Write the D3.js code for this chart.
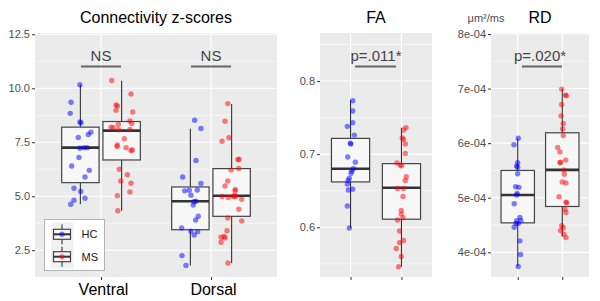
<!DOCTYPE html>
<html>
<head>
<meta charset="utf-8">
<script src="https://cdn.jsdelivr.net/npm/d3@7"></script>
<style>
  body { margin: 0; background: #fff; }
  svg { display: block; font-family: "Liberation Sans", Arial, sans-serif; }
</style>
</head>
<body>
<svg id="chart" width="600" height="301"></svg>
<script>
// Groups and box stats [lower whisker, Q1, median, Q3, upper whisker]
const groups = ['HC', 'MS'];
const regions = ['Ventral', 'Dorsal'];
const groupColors = { HC: 'blue', MS: 'red' };

const boxVentral = { HC: [4.63, 5.63, 7.25, 8.20, 10.16], MS: [4.33, 6.68, 8.04, 8.46, 10.35] };
const boxDorsal = { HC: [1.79, 3.45, 4.77, 5.43, 8.12], MS: [1.91, 4.07, 5.02, 6.28, 9.27] };
const boxFA = { HC: [0.599, 0.662, 0.680, 0.7215, 0.774], MS: [0.546, 0.611, 0.654, 0.687, 0.736] };
const boxRD = { HC: [3.74e-4, 4.54e-4, 5.05e-4, 5.50e-4, 6.09e-4], MS: [4.29e-4, 4.84e-4, 5.51e-4, 6.19e-4, 6.99e-4] };

// Subject values (connectivity z-scores)
const ventralHC = [10.16, 9.35, 8.84, 8.44, 8.40, 7.72, 7.86, 7.97, 7.25, 7.25, 7.22, 6.80, 6.40, 6.20, 5.89, 5.37, 5.22, 4.91, 4.82, 4.63];
const ventralHCJitter = [-0.004, -0.085, -0.092, -0.004, 0.005, -0.019, 0.072, 0.096, 0.033, 0.063, -0.004, -0.013, -0.079, 0.081, 0.042, -0.058, 0.003, 0.042, -0.058, -0.088];
const ventralMS = [10.36, 9.74, 9.23, 9.18, 8.98, 8.90, 8.49, 8.37, 8.32, 8.20, 8.18, 8.08, 8.09, 7.66, 7.37, 7.30, 7.25, 7.14, 7.12, 6.25, 6.00, 5.71, 5.60, 5.20, 5.02, 4.33];
const ventralMSJitter = [-0.090, 0.085, -0.051, -0.039, -0.051, 0.101, 0.076, 0.092, -0.030, -0.096, -0.075, -0.030, 0.076, 0.025, -0.039, -0.042, 0.040, 0.097, 0.085, -0.021, 0.052, -0.008, 0.085, 0.076, -0.039, -0.035];
const dorsalHC = [8.52, 8.14, 6.66, 5.89, 5.59, 5.29, 5.28, 5.25, 5.05, 4.77, 4.75, 4.59, 4.07, 3.90, 3.53, 3.38, 3.36, 3.21, 2.25, 1.79];
const dorsalHCJitter = [0.039, 0.096, 0.051, -0.070, 0.096, 0.063, -0.010, -0.052, 0.005, 0.051, 0.033, 0.026, 0.072, 0.048, -0.079, 0.005, 0.066, 0.035, -0.076, -0.040];
const dorsalMS = [9.29, 8.47, 7.71, 7.55, 6.71, 6.69, 6.21, 6.29, 5.71, 5.48, 5.32, 5.24, 4.99, 4.94, 4.99, 4.99, 5.02, 4.86, 4.40, 3.99, 3.86, 3.40, 3.14, 3.10, 3.07, 2.87, 1.91];
const dorsalMSJitter = [-0.035, -0.060, -0.024, -0.087, 0.067, 0.058, -0.005, 0.065, -0.035, -0.060, 0.034, 0.031, -0.087, -0.030, 0.015, 0.040, 0.022, 0.092, 0.065, -0.035, 0.092, -0.042, -0.069, -0.096, -0.060, -0.096, -0.033];

// FA values
const faHC = [0.773, 0.759, 0.743, 0.738, 0.726, 0.715, 0.714, 0.696, 0.689, 0.680, 0.677, 0.674, 0.667, 0.664, 0.659, 0.651, 0.652, 0.629, 0.599];
const faHCJitter = [0.043, 0.043, 0.043, -0.063, 0.075, -0.004, 0.004, -0.055, 0.094, 0.055, 0.024, 0.010, -0.024, -0.049, -0.063, -0.043, 0.043, -0.063, -0.024];
const faMS = [0.736, 0.733, 0.720, 0.722, 0.714, 0.701, 0.688, 0.685, 0.684, 0.669, 0.664, 0.653, 0.653, 0.642, 0.623, 0.618, 0.613, 0.610, 0.595, 0.582, 0.579, 0.571, 0.560, 0.546];
const faMSJitter = [0.089, 0.041, 0.041, 0.016, 0.075, 0.075, -0.089, -0.024, 0.002, 0.094, 0.075, -0.077, 0.041, 0.030, -0.004, -0.004, 0.030, -0.077, -0.037, 0.041, -0.037, -0.102, -0.004, -0.057];

// RD values (um^2/ms)
const rdHC = [6.09e-4, 5.97e-4, 5.64e-4, 5.58e-4, 5.56e-4, 5.44e-4, 5.20e-4, 5.19e-4, 5.08e-4, 5.05e-4, 4.89e-4, 4.64e-4, 4.58e-4, 4.58e-4, 4.53e-4, 4.53e-4, 4.46e-4, 4.21e-4, 3.96e-4, 3.74e-4];
const rdHCJitter = [0.011, -0.085, -0.002, -0.025, -0.002, -0.002, -0.047, 0.027, -0.011, -0.025, -0.079, 0.049, -0.025, 0.072, -0.040, 0.011, -0.079, 0.049, 0.065, 0.011];
const rdMS = [6.99e-4, 6.88e-4, 6.87e-4, 6.71e-4, 6.50e-4, 6.36e-4, 6.26e-4, 6.14e-4, 5.92e-4, 5.84e-4, 5.64e-4, 5.65e-4, 5.69e-4, 5.51e-4, 5.43e-4, 5.29e-4, 5.27e-4, 5.02e-4, 4.92e-4, 4.91e-4, 4.79e-4, 4.73e-4, 4.49e-4, 4.45e-4, 4.40e-4, 4.33e-4, 4.27e-4];
const rdMSJitter = [-0.013, 0.076, 0.090, -0.013, -0.029, 0.022, 0.009, 0.022, -0.103, -0.052, -0.052, -0.036, 0.076, 0.038, 0.045, 0, 0.083, -0.074, 0.083, 0.099, 0.061, 0.083, -0.013, 0.022, -0.036, 0.038, 0.083];

// Tick labels
const connTicks = [2.5, 5.0, 7.5, 10.0, 12.5];
const faTicks = [0.6, 0.7, 0.8];
const rdTicks = [4e-4, 5e-4, 6e-4, 7e-4, 8e-4];

const svg = d3.select('#chart');
const plotTop = 33, plotBottom = 277;

function zip(vals, jit) { return vals.map((v, i) => ({ v: v, j: jit[i] })); }

// Draw one ggplot-like panel
function drawPanel(cfg) {
    const x = d3.scaleLinear().domain([0.4, 2.6]).range([cfg.left, cfg.right]);
    const y = d3.scaleLinear().domain(cfg.yDomain).range([plotBottom, plotTop]);
    const g = svg.append('g');

    // background
    g.append('rect')
        .attr('x', cfg.left).attr('y', plotTop)
        .attr('width', cfg.right - cfg.left).attr('height', plotBottom - plotTop)
        .attr('fill', '#EBEBEB');

    // minor grid
    const majors = cfg.ticks;
    const step = majors[1] - majors[0];
    const minors = [majors[0] - step / 2].concat(majors.map(t => t + step / 2))
        .filter(t => t > cfg.yDomain[0] && t < cfg.yDomain[1]);
    g.selectAll('.minor').data(minors).join('line')
        .attr('x1', cfg.left).attr('x2', cfg.right)
        .attr('y1', d => y(d)).attr('y2', d => y(d))
        .attr('stroke', '#fff').attr('stroke-width', 0.55);

    // major grid
    g.selectAll('.major').data(majors).join('line')
        .attr('x1', cfg.left).attr('x2', cfg.right)
        .attr('y1', d => y(d)).attr('y2', d => y(d))
        .attr('stroke', '#fff').attr('stroke-width', 1.1);
    g.selectAll('.vmajor').data([1, 2]).join('line')
        .attr('x1', d => x(d)).attr('x2', d => x(d))
        .attr('y1', plotTop).attr('y2', plotBottom)
        .attr('stroke', '#fff').attr('stroke-width', 1.1);

    // y axis
    const yAxis = d3.axisLeft(y).tickValues(majors).tickSize(3).tickPadding(2).tickFormat(cfg.fmt);
    const ya = g.append('g').attr('transform', `translate(${cfg.left},0)`).call(yAxis);
    ya.select('.domain').remove();
    ya.selectAll('line').attr('stroke', '#333').attr('stroke-width', 1);
    ya.selectAll('text').attr('fill', '#4D4D4D').attr('font-size', 11)
        .attr('font-family', '"Liberation Sans", Arial, sans-serif');

    // x axis
    const xAxis = d3.axisBottom(x).tickValues([1, 2]).tickSize(3).tickPadding(4)
        .tickFormat(d => cfg.xLabels ? cfg.xLabels[d - 1] : '');
    const xa = g.append('g').attr('transform', `translate(0,${plotBottom})`).call(xAxis);
    xa.select('.domain').remove();
    xa.selectAll('line').attr('stroke', '#333').attr('stroke-width', 1);
    xa.selectAll('text').attr('fill', '#000').attr('font-size', 16).attr('dx', 2)
        .attr('font-family', '"Liberation Sans", Arial, sans-serif');

    // boxes and points
    cfg.sets.forEach(s => {
        const cx = s.pos;
        const hw = s.width / 2;
        const b = s.box;
        g.append('line')
            .attr('x1', x(cx)).attr('x2', x(cx))
            .attr('y1', y(b[0])).attr('y2', y(b[1]))
            .attr('stroke', '#333').attr('stroke-width', 1.1);
        g.append('line')
            .attr('x1', x(cx)).attr('x2', x(cx))
            .attr('y1', y(b[3])).attr('y2', y(b[4]))
            .attr('stroke', '#333').attr('stroke-width', 1.1);
        g.append('rect')
            .attr('x', x(cx - hw)).attr('y', y(b[3]))
            .attr('width', x(cx + hw) - x(cx - hw)).attr('height', y(b[1]) - y(b[3]))
            .attr('fill', '#F7F7F7').attr('stroke', '#444').attr('stroke-width', 1.2);
        g.append('line')
            .attr('x1', x(cx - hw)).attr('x2', x(cx + hw))
            .attr('y1', y(b[2])).attr('y2', y(b[2]))
            .attr('stroke', '#333').attr('stroke-width', 2.6);
    });
    cfg.sets.forEach(s => {
        g.selectAll(null).data(s.points).join('circle')
            .attr('cx', d => x(s.pos + d.j))
            .attr('cy', d => y(d.v))
            .attr('r', 2.7)
            .attr('fill', s.color)
            .attr('fill-opacity', 0.5);
    });

    // significance labels
    cfg.signif.forEach(a => {
        g.append('text')
            .attr('x', x(a.at)).attr('y', 61)
            .attr('text-anchor', 'middle')
            .attr('font-size', 15).attr('fill', '#444')
            .text(a.label);
        g.append('line')
            .attr('x1', x(a.at) + a.from).attr('x2', x(a.at) + a.to)
            .attr('y1', 66.5).attr('y2', 66.5)
            .attr('stroke', '#666').attr('stroke-width', 2);
    });

    // title
    svg.append('text')
        .attr('x', (cfg.left + cfg.right) / 2).attr('y', 23)
        .attr('text-anchor', 'middle').attr('font-size', 16).attr('fill', '#000')
        .text(cfg.title);

    return { x, y };
}

const dodge = 0.1875;
const wDodge = 0.34;

// Panel 1: connectivity z-scores
drawPanel({
    left: 35, right: 277,
    yDomain: [1.26, 12.56],
    ticks: connTicks,
    fmt: d3.format('.1f'),
    xLabels: regions,
    title: 'Connectivity z-scores',
    sets: [
        { pos: 1 - dodge, width: wDodge, box: boxVentral.HC, points: zip(ventralHC, ventralHCJitter), color: groupColors.HC },
        { pos: 1 + dodge, width: wDodge, box: boxVentral.MS, points: zip(ventralMS, ventralMSJitter), color: groupColors.MS },
        { pos: 2 - dodge, width: wDodge, box: boxDorsal.HC, points: zip(dorsalHC, dorsalHCJitter), color: groupColors.HC },
        { pos: 2 + dodge, width: wDodge, box: boxDorsal.MS, points: zip(dorsalMS, dorsalMSJitter), color: groupColors.MS }
    ],
    signif: [
        { at: 1, label: 'NS', from: -20, to: 20 },
        { at: 2, label: 'NS', from: -20, to: 20 }
    ]
});

// Panel 2: FA
drawPanel({
    left: 320, right: 432,
    yDomain: [0.532, 0.8656],
    ticks: faTicks,
    fmt: d3.format('.1f'),
    xLabels: null,
    title: 'FA',
    sets: [
        { pos: 1, width: 0.75, box: boxFA.HC, points: zip(faHC, faHCJitter), color: groupColors.HC },
        { pos: 2, width: 0.75, box: boxFA.MS, points: zip(faMS, faMSJitter), color: groupColors.MS }
    ],
    signif: [{ at: 1.5, label: 'p=.011*', from: -21, to: 20 }]
});

// Panel 3: RD
drawPanel({
    left: 491, right: 589,
    yDomain: [3.548e-4, 8.018e-4],
    ticks: rdTicks,
    fmt: d => d3.format('.0e')(d).replace('e-', 'e-0'),
    xLabels: null,
    title: 'RD',
    sets: [
        { pos: 1, width: 0.75, box: boxRD.HC, points: zip(rdHC, rdHCJitter), color: groupColors.HC },
        { pos: 2, width: 0.75, box: boxRD.MS, points: zip(rdMS, rdMSJitter), color: groupColors.MS }
    ],
    signif: [{ at: 1.5, label: 'p=.020*', from: -18, to: 22 }]
});

// unit label
svg.append('text')
    .attr('x', 486).attr('y', 22).attr('text-anchor', 'middle')
    .attr('font-size', 11).attr('fill', '#4D4D4D')
    .text('μm²/ms');

// Legend
const legend = svg.append('g');
legend.append('rect')
    .attr('x', 44.5).attr('y', 219.5).attr('width', 60).attr('height', 51)
    .attr('fill', '#fff').attr('stroke', '#B3B3B3').attr('stroke-width', 1);
legend.append('rect')
    .attr('x', 51).attr('y', 222.5).attr('width', 22.5).attr('height', 46)
    .attr('fill', '#F2F2F2');
groups.forEach((grp, i) => {
    const cy = 234.3 + i * 22.4;
    legend.append('line')
        .attr('x1', 62).attr('x2', 62).attr('y1', cy - 10).attr('y2', cy + 10)
        .attr('stroke', '#333').attr('stroke-width', 1.1);
    legend.append('rect')
        .attr('x', 53.5).attr('y', cy - 5).attr('width', 17).attr('height', 10)
        .attr('fill', '#F7F7F7').attr('stroke', '#444').attr('stroke-width', 1.2);
    legend.append('line')
        .attr('x1', 53.5).attr('x2', 70.5).attr('y1', cy).attr('y2', cy)
        .attr('stroke', '#333').attr('stroke-width', 2);
    legend.append('circle')
        .attr('cx', 62).attr('cy', cy).attr('r', 2.7)
        .attr('fill', groupColors[grp]).attr('fill-opacity', 0.5);
    legend.append('text')
        .attr('x', 81.5).attr('y', cy + 4).attr('font-size', 11).attr('fill', '#1A1A1A')
        .text(grp);
});
</script>
</body>
</html>
